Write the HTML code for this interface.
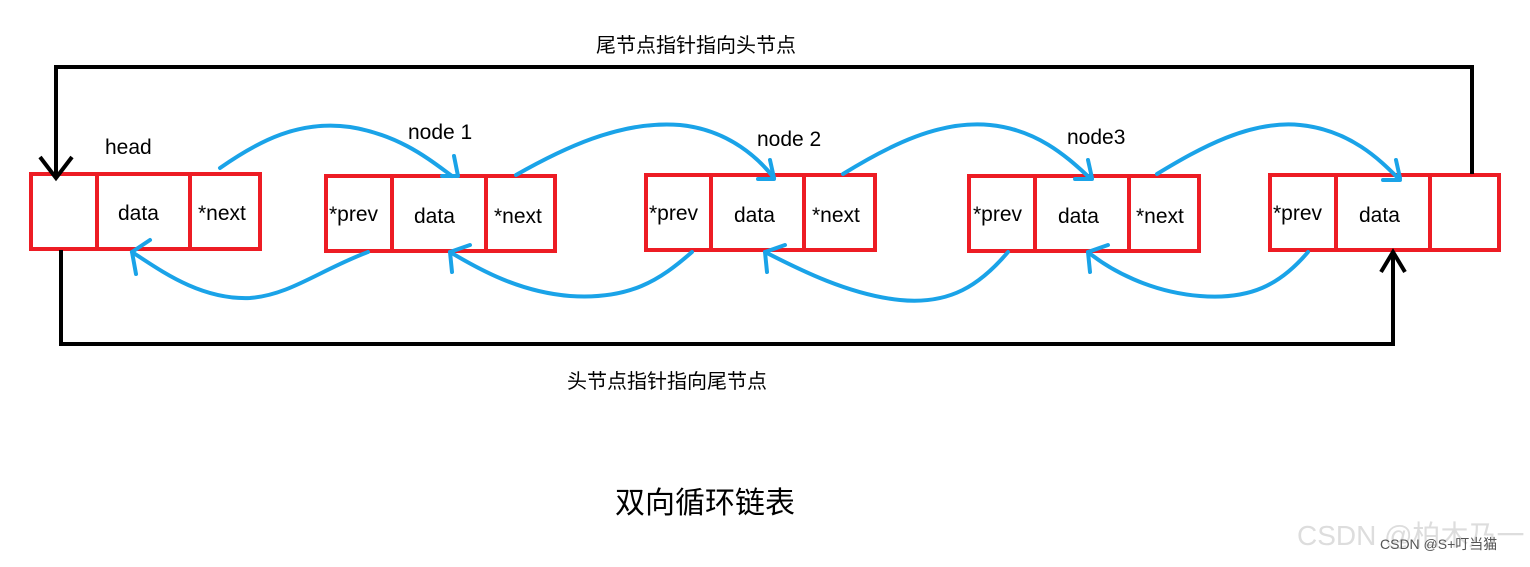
<!DOCTYPE html>
<html><head><meta charset="utf-8"><style>
body{margin:0;background:#fff;width:1530px;height:562px;overflow:hidden}
svg text{font-family:"Liberation Sans","Noto Sans CJK SC",sans-serif;fill:#000}
</style></head><body>
<svg width="1530" height="562" viewBox="0 0 1530 562">
<g fill="none" stroke="#ed1c24" stroke-width="4">
<rect x="31" y="174" width="229" height="75"/><line x1="97" y1="174" x2="97" y2="249"/><line x1="190" y1="174" x2="190" y2="249"/>
<rect x="326" y="176" width="229" height="75"/><line x1="392" y1="176" x2="392" y2="251"/><line x1="486" y1="176" x2="486" y2="251"/>
<rect x="646" y="175" width="229" height="75"/><line x1="711" y1="175" x2="711" y2="250"/><line x1="804" y1="175" x2="804" y2="250"/>
<rect x="969" y="176" width="230" height="75"/><line x1="1035" y1="176" x2="1035" y2="251"/><line x1="1129" y1="176" x2="1129" y2="251"/>
<rect x="1270" y="175" width="229" height="75"/><line x1="1336" y1="175" x2="1336" y2="250"/><line x1="1430" y1="175" x2="1430" y2="250"/>
</g>
<g fill="none" stroke="#000" stroke-width="4">
<polyline points="56,178 56,67 1472,67 1472,174"/>
<polyline points="40,157 56,178 72,157"/>
<polyline points="61,250 61,344 1393,344 1393,252"/>
<polyline points="1381,272 1393,252 1405,272"/>
</g>
<g fill="none" stroke="#1aa3e8" stroke-width="4" stroke-linecap="round">
<path d="M220,168 C260,140 300,120 350,127 C400,135 430,160 452,176"/>
<path d="M442,176 H458 M454,156 L458,176"/>
<path d="M516,175 C560,150 620,120 680,125 C730,130 760,160 774,178"/>
<path d="M758,179 H774 M770,160 L774,178"/>
<path d="M843,174 C890,145 940,120 990,125 C1040,130 1070,160 1090,178"/>
<path d="M1075,179 H1092 M1088,160 L1092,178"/>
<path d="M1157,174 C1200,148 1250,120 1300,125 C1350,130 1380,160 1398,178"/>
<path d="M1383,180 H1400 M1396,160 L1400,178"/>
<path d="M368,252 C320,270 290,295 250,298 C200,300 160,270 132,252"/>
<path d="M132,252 L150,240 M132,252 L136,274"/>
<path d="M692,252 C660,280 630,300 570,296 C520,292 480,270 450,252"/>
<path d="M450,252 L470,245 M450,252 L452,272"/>
<path d="M1008,252 C980,285 950,305 900,300 C850,295 800,270 765,252"/>
<path d="M765,252 L785,245 M765,252 L767,272"/>
<path d="M1308,252 C1280,285 1250,300 1200,296 C1150,292 1110,270 1088,252"/>
<path d="M1088,252 L1108,245 M1088,252 L1090,272"/>
</g>
<g font-size="21">
<text x="105" y="154">head</text>
<text x="408" y="139">node 1</text>
<text x="757" y="146">node 2</text>
<text x="1067" y="144">node3</text>
<text x="118" y="220">data</text><text x="198" y="220">*next</text>
<text x="329" y="221">*prev</text><text x="414" y="223">data</text><text x="494" y="223">*next</text>
<text x="649" y="220">*prev</text><text x="734" y="222">data</text><text x="812" y="222">*next</text>
<text x="973" y="221">*prev</text><text x="1058" y="223">data</text><text x="1136" y="223">*next</text>
<text x="1273" y="220">*prev</text><text x="1359" y="222">data</text>
</g>
<text x="596" y="52" font-size="20">尾节点指针指向头节点</text>
<text x="567" y="388" font-size="20">头节点指针指向尾节点</text>
<text x="615" y="513" font-size="30">双向循环链表</text>
<text x="1297" y="545" font-size="28" style="fill:#ddd">CSDN @柏木乃一</text>
<text x="1380" y="549" font-size="14" style="fill:#555">CSDN @S+叮当猫</text>
</svg>
</body></html>
